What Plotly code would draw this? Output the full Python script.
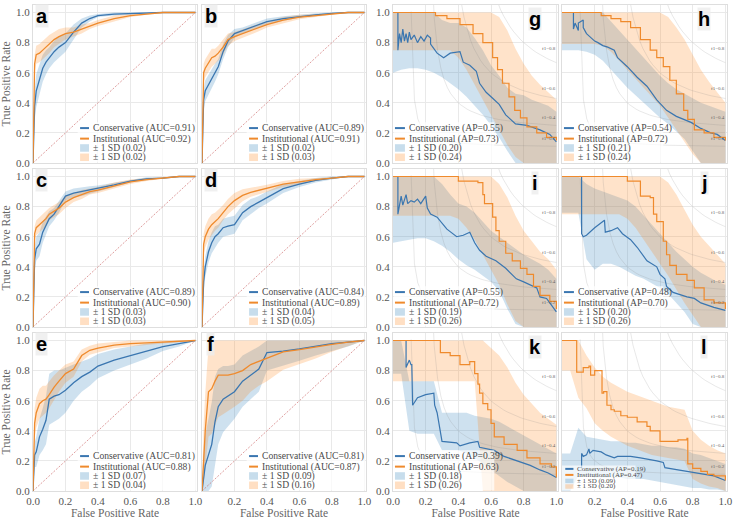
import numpy as np
import plotly.graph_objects as go

W, H = 740, 525
BLUE = "#3a76b0"
ORANGE = "#ef8a2c"
BLUE_FILL = "rgba(31,119,180,0.22)"
ORANGE_FILL = "rgba(255,127,14,0.22)"
SERIF = "Liberation Serif"
SANS = "Liberation Sans"

# ---------------- ROC panels (a-f): mean curve + SD on a shared FPR grid
roc_fpr = [0, .005, .01, .02, .04, .06, .08, .1, .13, .16, .2, .25, .3, .35, .4, .5, .6, .7, .8, .9, 1]

a_cons = [0, .25, .38, .48, .56, .63, .67, .70, .74, .77, .80, .87, .93, .96, .98, .99, .995, 1, 1, 1, 1]
a_cons_sd = [0, .08, .1, .11, .1, .09, .08, .07, .07, .07, .06, .05, .03, .02, .01, .01, .005, 0, 0, 0, 0]
a_inst = [0, .58, .66, .72, .73, .75, .77, .79, .82, .84, .86, .87, .89, .91, .93, .96, .98, .99, 1, 1, 1]
a_inst_sd = [0, .06, .06, .06, .06, .06, .06, .06, .05, .05, .04, .03, .03, .02, .02, .02, .01, .005, 0, 0, 0]

b_cons = [0, .30, .42, .48, .52, .56, .60, .64, .74, .81, .86, .88, .90, .92, .94, .96, .975, .985, .995, 1, 1]
b_cons_sd = [0, .06, .07, .07, .07, .06, .06, .05, .05, .04, .03, .02, .02, .02, .02, .015, .01, .01, .005, 0, 0]
b_inst = [0, .45, .60, .63, .67, .70, .71, .73, .77, .82, .84, .86, .88, .90, .92, .95, .97, .98, .99, 1, 1]
b_inst_sd = [0, .06, .06, .06, .06, .06, .05, .05, .05, .04, .03, .03, .03, .025, .02, .02, .015, .01, .005, 0, 0]

c_cons = [0, .30, .45, .52, .55, .63, .68, .72, .75, .80, .87, .89, .90, .91, .92, .945, .97, .985, .99, 1, 1]
c_cons_sd = [0, .07, .08, .08, .08, .07, .06, .05, .04, .04, .03, .03, .03, .025, .02, .015, .01, .01, .005, 0, 0]
c_inst = [0, .57, .62, .66, .68, .70, .72, .75, .77, .79, .83, .86, .88, .90, .91, .94, .965, .98, .99, 1, 1]
c_inst_sd = [0, .05, .05, .05, .05, .05, .05, .04, .04, .04, .04, .03, .03, .02, .02, .02, .015, .01, .005, 0, 0]

d_cons = [0, .20, .30, .40, .50, .56, .60, .62, .66, .67, .68, .76, .80, .83, .86, .92, .95, .975, .99, 1, 1]
d_cons_sd = [0, .05, .06, .07, .07, .07, .07, .06, .06, .06, .06, .05, .05, .04, .04, .03, .02, .015, .01, 0, 0]
d_inst = [0, .40, .55, .60, .65, .68, .70, .72, .76, .80, .84, .875, .895, .91, .92, .95, .965, .98, .99, 1, 1]
d_inst_sd = [0, .06, .07, .07, .07, .07, .06, .06, .05, .05, .05, .04, .03, .03, .025, .02, .02, .01, .005, 0, 0]

e_cons = [0, .20, .24, .26, .36, .41, .47, .61, .63, .64, .67, .72, .76, .79, .83, .87, .90, .93, .96, .98, 1]
e_cons_sd = [0, .06, .08, .10, .12, .14, .16, .17, .17, .16, .15, .12, .10, .09, .08, .07, .06, .05, .03, .02, 0]
e_inst = [0, .36, .45, .52, .58, .60, .61, .64, .69, .73, .78, .81, .90, .935, .95, .97, .98, .985, .99, .995, 1]
e_inst_sd = [0, .08, .10, .10, .10, .10, .09, .09, .08, .07, .06, .05, .04, .03, .03, .02, .02, .015, .01, .005, 0]

f_cons = [0, .05, .10, .17, .24, .31, .46, .56, .61, .63, .66, .73, .77, .81, .92, .93, .945, .96, .98, .99, 1]
f_cons_sd = [0, .10, .15, .20, .25, .28, .30, .25, .22, .20, .18, .17, .16, .15, .12, .10, .08, .06, .05, .03, 0]
f_inst = [0, .10, .25, .40, .66, .68, .73, .77, .77, .77, .78, .80, .84, .86, .88, .925, .94, .96, .975, .99, 1]
f_inst_sd = [0, .15, .20, .25, .30, .30, .30, .28, .26, .24, .22, .20, .18, .16, .15, .12, .10, .08, .05, .03, 0]

roc_auc_cons = [0.91, 0.89, 0.89, 0.84, 0.81, 0.81]
roc_auc_inst = [0.92, 0.91, 0.90, 0.89, 0.88, 0.87]
roc_sd_cons = [0.02, 0.02, 0.03, 0.04, 0.07, 0.09]
roc_sd_inst = [0.02, 0.03, 0.03, 0.05, 0.04, 0.16]

# ---------------- PR panels (g-l): curves + SD band edges on a coarse grid
pr_grid = [0, .05, .1, .15, .2, .25, .3, .35, .4, .45, .5, .55, .6, .65, .7, .75, .8, .85, .9, .95, 1]

g_cons_x = [.03, .03, .04, .05, .06, .07, .08, .09, .10, .11, .13, .15, .17, .19, .21, .23, .23, .25, .27, .31,
            .35, .41, .43, .47, .51, .53, .57, .61, .65, .69, .75, .82, .90, .96, 1.0]
g_cons_y = [1.0, .75, .86, .80, .89, .81, .86, .80, .87, .82, .85, .80, .84, .81, .85, .83, .79, .76, .73, .70,
            .73, .74, .67, .65, .61, .53, .47, .43, .39, .32, .26, .25, .22, .19, .14]
g_inst_x = [0, .26, .33, .41, .49, .55, .61, .64, .67, .71, .745, .78, .82, .88, .94, 1.0]
g_inst_y = [1.0, .98, .96, .92, .86, .80, .70, .62, .53, .44, .35, .30, .24, .20, .17, .15]
g_cons_lo = [.60, .62, .63, .63, .62, .60, .57, .53, .49, .44, .38, .32, .25, .17, .08, 0, 0, 0, 0, 0, 0]
g_cons_hi = [1, 1, 1, 1, 1, 1, .95, .93, .93, .90, .83, .75, .65, .58, .50, .46, .45, .42, .40, .38, .34]
g_inst_lo = [.75, .75, .75, .75, .75, .75, .75, .75, .70, .62, .52, .42, .32, .22, .12, .04, 0, 0, 0, 0, 0]
g_inst_hi = [1, 1, 1, 1, 1, 1, 1, 1, 1, 1, 1, 1, 1, .97, .88, .76, .66, .58, .52, .47, .42]

h_cons_x = [.07, .07, .08, .10, .10, .13, .13, .15, .17, .20, .22, .25, .28, .32, .34, .40, .46, .52, .58, .64,
            .70, .79, .85, .91, .95, 1.0]
h_cons_y = [1.0, .89, .93, .88, .93, .95, .90, .86, .84, .81, .80, .78, .77, .75, .70, .64, .57, .51, .42, .35,
            .31, .27, .23, .20, .19, .15]
h_inst_x = [0, .24, .30, .36, .42, .48, .54, .58, .62, .66, .70, .745, .77, .81, .87, .93, 1.0]
h_inst_y = [1.0, .98, .96, .94, .90, .82, .75, .70, .64, .55, .46, .35, .29, .22, .20, .17, .15]
h_cons_lo = [.75, .75, .75, .74, .72, .68, .62, .56, .50, .45, .40, .35, .30, .26, .21, .16, .08, 0, 0, 0, 0]
h_cons_hi = [1, 1, 1, 1, 1, 1, .94, .88, .82, .76, .70, .64, .58, .53, .49, .46, .43, .40, .38, .36, .34]
h_inst_lo = [.79, .79, .79, .79, .79, .78, .74, .68, .62, .56, .50, .44, .38, .30, .22, .14, .06, 0, 0, 0, 0]
h_inst_hi = [1, 1, 1, 1, 1, 1, 1, 1, 1, 1, 1, 1, 1, .97, .90, .82, .72, .62, .54, .47, .40]

i_cons_x = [.03, .03, .05, .06, .08, .09, .11, .13, .15, .17, .20, .21, .23, .27, .33, .39, .43, .47, .50, .53,
            .57, .63, .69, .755, .80, .84, .88, .90, .94, .96, 1.0]
i_cons_y = [1.0, .75, .87, .81, .88, .82, .84, .83, .85, .82, .87, .79, .75, .73, .65, .60, .61, .63, .56, .51,
            .47, .44, .39, .32, .30, .28, .26, .20, .19, .16, .10]
i_inst_x = [0, .40, .52, .55, .56, .61, .63, .65, .69, .73, .78, .82, .86, .90, .96, 1.0]
i_inst_y = [1.0, .97, .96, .88, .82, .73, .64, .57, .49, .44, .39, .35, .27, .21, .17, .12]
i_cons_lo = [.56, .57, .58, .59, .59, .57, .54, .50, .45, .41, .38, .34, .30, .24, .12, .02, 0, 0, 0, 0, 0]
i_cons_hi = [1, 1, 1, 1, 1, 1, .95, .88, .82, .80, .76, .70, .64, .60, .56, .52, .48, .45, .42, .38, .32]
i_inst_lo = [.74, .74, .74, .74, .74, .74, .74, .74, .72, .66, .58, .48, .38, .28, .15, .04, 0, 0, 0, 0, 0]
i_inst_hi = [1, 1, 1, 1, 1, 1, 1, 1, 1, 1, 1, 1, 1, .95, .86, .74, .64, .57, .50, .45, .38]

j_cons_x = [.12, .12, .13, .15, .20, .26, .265, .30, .34, .37, .42, .46, .52, .58, .60, .63, .64, .68, .765, .81,
            .85, .93, 1.0]
j_cons_y = [1.0, .62, .60, .61, .66, .71, .63, .64, .66, .62, .58, .53, .44, .40, .35, .32, .27, .23, .20, .19,
            .16, .13, .11]
j_inst_x = [0, .40, .48, .54, .56, .58, .62, .64, .66, .70, .765, .81, .87, .93, 1.0]
j_inst_y = [1.0, .97, .87, .86, .75, .70, .57, .48, .41, .35, .31, .26, .18, .16, .12]
j_cons_lo = [.76, .76, .76, .45, .38, .42, .42, .40, .37, .34, .32, .29, .26, .22, .16, .10, .02, 0, 0, 0, 0]
j_cons_hi = [1, 1, 1, .95, .92, .90, .88, .86, .84, .80, .74, .68, .62, .56, .50, .45, .40, .36, .33, .30, .28]
j_inst_lo = [.75, .75, .75, .75, .75, .75, .75, .75, .72, .66, .58, .50, .42, .34, .25, .16, .08, 0, 0, 0, 0]
j_inst_hi = [1, 1, 1, 1, 1, 1, 1, 1, 1, 1, 1, 1, 1, .96, .88, .78, .68, .60, .54, .48, .42]

k_cons_x = [.08, .08, .10, .11, .115, .12, .15, .20, .25, .255, .27, .29, .30, .39, .41, .47, .52, .53, .62, .68,
            .76, .84, .90, .95, 1.0]
k_cons_y = [1.0, .82, .87, .84, .84, .57, .62, .64, .65, .57, .52, .40, .33, .32, .30, .32, .33, .29, .27, .23,
            .20, .17, .14, .12, .09]
k_inst_x = [0, .29, .35, .41, .47, .50, .52, .53, .55, .58, .60, .62, .68, .76, .82, .90, .97, 1.0]
k_inst_y = [1.0, .92, .90, .84, .86, .78, .71, .65, .58, .54, .45, .36, .31, .27, .22, .18, .16, .09]
k_cons_lo = [.78, .78, .40, .38, .38, .38, .27, .27, .27, .25, .22, .18, .14, .10, .06, .03, 0, 0, 0, 0, 0]
k_cons_hi = [1, 1, .73, .73, .73, .73, .52, .52, .52, .52, .50, .49, .48, .46, .43, .40, .37, .34, .31, .28, .25]
k_inst_lo = [.73, .73, .73, .73, .73, .73, .73, .73, .73, .73, .73, 0, 0, 0, 0, 0, 0, 0, 0, 0, 0]
k_inst_hi = [1, 1, 1, 1, 1, 1, 1, 1, 1, 1, 1, 1, .95, .90, .82, .72, .64, .58, .52, .48, .44]

l_cons_x = [.12, .12, .13, .15, .165, .17, .19, .24, .27, .32, .34, .42, .48, .54, .58, .62, .63, .71, .765, .80,
            .87, .93, 1.0]
l_cons_y = [.15, .25, .23, .24, .28, .25, .27, .26, .24, .22, .23, .23, .22, .21, .20, .19, .155, .14, .13, .12,
            .11, .10, .07]
l_inst_x = [0, .09, .09, .12, .13, .165, .175, .20, .245, .255, .275, .30, .32, .36, .40, .46, .52, .54, .60, .65,
            .71, .765, .77, .80, .85, .89, .93, 1.0]
l_inst_y = [1.0, 1.0, .79, .79, .82, .83, .77, .80, .65, .66, .57, .54, .53, .50, .49, .46, .43, .40, .33, .33,
            .34, .35, .18, .15, .13, .11, .10, .07]
l_cons_lo = [0, 0, .10, .10, .09, .09, .09, .09, .08, .08, .08, .07, .06, .05, .04, .03, .02, .02, .01, .01, 0]
l_cons_hi = [.25, .25, .42, .36, .35, .34, .33, .33, .32, .32, .31, .30, .30, .29, .29, .28, .25, .24, .22, .20, .18]
l_inst_lo = [.80, .80, .62, .55, .45, .40, .36, .33, .30, .28, .26, .24, .23, .22, .21, .20, .08, .05, .03, .02, 0]
l_inst_hi = [1, 1, 1, .90, .82, .76, .72, .69, .66, .64, .62, .60, .58, .56, .55, .54, .40, .34, .30, .27, .25]

pr_ap_cons = [0.55, 0.54, 0.55, 0.48, 0.39, 0.19]
pr_ap_inst = [0.73, 0.72, 0.72, 0.70, 0.63, 0.47]
pr_sd_cons = [0.20, 0.21, 0.19, 0.20, 0.18, 0.09]
pr_sd_inst = [0.24, 0.24, 0.26, 0.26, 0.26, 0.20]

f_scores = [0.2, 0.4, 0.6, 0.8]

# pixel boxes of the panel grid
col_px = [(33, 197), (202, 366), (393, 558), (562, 727)]
row_px = [(5, 163), (169, 327), (333, 491)]

roc_panels = [("a", 0, 0, a_cons, a_cons_sd, a_inst, a_inst_sd),
              ("b", 0, 1, b_cons, b_cons_sd, b_inst, b_inst_sd),
              ("c", 1, 0, c_cons, c_cons_sd, c_inst, c_inst_sd),
              ("d", 1, 1, d_cons, d_cons_sd, d_inst, d_inst_sd),
              ("e", 2, 0, e_cons, e_cons_sd, e_inst, e_inst_sd),
              ("f", 2, 1, f_cons, f_cons_sd, f_inst, f_inst_sd)]
pr_panels = [("g", 0, 2, g_cons_x, g_cons_y, g_cons_lo, g_cons_hi, g_inst_x, g_inst_y, g_inst_lo, g_inst_hi),
             ("h", 0, 3, h_cons_x, h_cons_y, h_cons_lo, h_cons_hi, h_inst_x, h_inst_y, h_inst_lo, h_inst_hi),
             ("i", 1, 2, i_cons_x, i_cons_y, i_cons_lo, i_cons_hi, i_inst_x, i_inst_y, i_inst_lo, i_inst_hi),
             ("j", 1, 3, j_cons_x, j_cons_y, j_cons_lo, j_cons_hi, j_inst_x, j_inst_y, j_inst_lo, j_inst_hi),
             ("k", 2, 2, k_cons_x, k_cons_y, k_cons_lo, k_cons_hi, k_inst_x, k_inst_y, k_inst_lo, k_inst_hi),
             ("l", 2, 3, l_cons_x, l_cons_y, l_cons_lo, l_cons_hi, l_inst_x, l_inst_y, l_inst_lo, l_inst_hi)]

fig = go.Figure()
shapes = []
annos = []


def ax_names(n):
    return ("x" if n == 1 else f"x{n}"), ("y" if n == 1 else f"y{n}")


def add_band(n, x, lo, hi, color, shape):
    xa, ya = ax_names(n)
    fig.add_trace(go.Scatter(x=x, y=lo, mode="lines", line=dict(width=0, shape=shape),
                             xaxis=xa, yaxis=ya, hoverinfo="skip", showlegend=False))
    fig.add_trace(go.Scatter(x=x, y=hi, mode="lines", line=dict(width=0, shape=shape),
                             fill="tonexty", fillcolor=color, xaxis=xa, yaxis=ya,
                             hoverinfo="skip", showlegend=False))


def add_line(n, x, y, color, shape="linear", width=1.3, dash=None):
    xa, ya = ax_names(n)
    fig.add_trace(go.Scatter(x=x, y=y, mode="lines", xaxis=xa, yaxis=ya,
                             line=dict(color=color, width=width, shape=shape, dash=dash),
                             hoverinfo="skip", showlegend=False))


def add_legend(n, labels, x_sw, x_txt, rows, size, box, half_h):
    xa, ya = ax_names(n)
    shapes.append(dict(type="rect", xref=xa, yref=ya, x0=box[0], x1=box[1], y0=box[2], y1=box[3],
                       fillcolor="rgba(255,255,255,0.7)", line=dict(width=0), layer="above"))
    colors = [BLUE, ORANGE, "rgba(31,119,180,0.25)", "rgba(255,127,14,0.25)"]
    for i, (lab, col, yy) in enumerate(zip(labels, colors, rows)):
        if i < 2:
            shapes.append(dict(type="line", xref=xa, yref=ya, x0=x_sw[0], x1=x_sw[1], y0=yy, y1=yy,
                               line=dict(color=col, width=2), layer="above"))
        else:
            shapes.append(dict(type="rect", xref=xa, yref=ya, x0=x_sw[0], x1=x_sw[1],
                               y0=yy - half_h, y1=yy + half_h, fillcolor=col,
                               line=dict(width=0), layer="above"))
        annos.append(dict(x=x_txt, y=yy, xref=xa, yref=ya, text=lab, showarrow=False,
                          xanchor="left", yanchor="middle",
                          font=dict(family=SERIF, size=size, color="#4a4a4a")))


def add_letter(n, letter, x, y):
    xa, ya = ax_names(n)
    annos.append(dict(x=x, y=y, xref=xa, yref=ya, text=f"<b>{letter}</b>", showarrow=False,
                      xanchor="center", yanchor="middle", bgcolor="rgba(236,236,236,0.8)",
                      borderpad=0, font=dict(family=SANS, size=20, color="black")))


def setup_axes(n, r, c):
    xa, ya = ax_names(n)
    x0, x1 = col_px[c]
    y0, y1 = row_px[r]
    common = dict(showgrid=True, gridcolor="#e9e9e9", gridwidth=1, zeroline=False, automargin=False,
                  showline=True, linecolor="#dedede", linewidth=1, mirror=True, ticks="",
                  tickfont=dict(family=SERIF, size=11, color="#555"), tickformat=".1f",
                  dtick=0.2, tick0=0)
    xax = dict(domain=[x0 / W, x1 / W], range=[0, 1.01], anchor=ya,
               showticklabels=(r == 2), **common)
    if c in (1, 3):
        xax["tickvals"] = [0.2, 0.4, 0.6, 0.8, 1.0]
    if r == 2:
        xax["title"] = dict(text="False Positive Rate", standoff=2,
                            font=dict(family=SERIF, size=11.5, color="#666"))
    yax = dict(domain=[1 - y1 / H, 1 - y0 / H], range=[0, 1.05], anchor=xa,
               showticklabels=(c in (0, 2)), **common)
    if c == 0:
        yax["title"] = dict(text="True Positive Rate", standoff=4,
                            font=dict(family=SERIF, size=11.5, color="#666"))
    fig.update_layout(**{("xaxis" if n == 1 else f"xaxis{n}"): xax,
                         ("yaxis" if n == 1 else f"yaxis{n}"): yax})


n = 0
for k, (letter, r, c, cons, cons_sd, inst, inst_sd) in enumerate(roc_panels):
    n += 1
    setup_axes(n, r, c)
    cons = np.array(cons)
    inst = np.array(inst)
    add_band(n, roc_fpr, np.clip(cons - np.array(cons_sd), 0, 1), np.clip(cons + np.array(cons_sd), 0, 1),
             BLUE_FILL, "linear")
    add_band(n, roc_fpr, np.clip(inst - np.array(inst_sd), 0, 1), np.clip(inst + np.array(inst_sd), 0, 1),
             ORANGE_FILL, "linear")
    add_line(n, [0, 1], [0, 1], "rgba(200,90,90,0.75)", width=0.8, dash="2px,1.5px")
    add_line(n, roc_fpr, cons, BLUE)
    add_line(n, roc_fpr, inst, ORANGE)
    labels = [f"Conservative (AUC={roc_auc_cons[k]:.2f})", f"Institutional (AUC={roc_auc_inst[k]:.2f})",
              f"± 1 SD ({roc_sd_cons[k]:.2f})", f"± 1 SD ({roc_sd_inst[k]:.2f})"]
    add_legend(n, labels, (0.29, 0.345), 0.36, [0.232, 0.162, 0.1, 0.038], 9.6,
               (0.275, 1.005, 0.004, 0.27), 0.025)
    add_letter(n, letter, 0.055, 0.975)

fx = np.linspace(0.01, 1, 50)
for k, (letter, r, c, cx, cy, clo, chi, ix, iy, ilo, ihi) in enumerate(pr_panels):
    n += 1
    setup_axes(n, r, c)
    add_band(n, pr_grid, clo, chi, BLUE_FILL, "linear")
    add_band(n, pr_grid, ilo, ihi, ORANGE_FILL, "linear")
    xa, ya = ax_names(n)
    for fs in f_scores:
        fy = fs * fx / (2 * fx - fs)
        m = (fy >= 0) & (fy <= 1.5)
        add_line(n, fx[m], fy[m], "rgba(128,128,128,0.18)", width=1)
        annos.append(dict(x=0.9, y=fy[45] + 0.02, xref=xa, yref=ya, text=f"f1={fs:.1f}", showarrow=False,
                          xanchor="left", yanchor="bottom",
                          font=dict(family=SERIF, size=5, color="#666")))
    add_line(n, cx, cy, BLUE, width=1.2)
    add_line(n, ix, iy, ORANGE, shape="hv", width=1.2)
    labels = [f"Conservative (AP={pr_ap_cons[k]:.2f})", f"Institutional (AP={pr_ap_inst[k]:.2f})",
              f"± 1 SD ({pr_sd_cons[k]:.2f})", f"± 1 SD ({pr_sd_inst[k]:.2f})"]
    if letter == "l":
        add_legend(n, labels, (0.02, 0.07), 0.08, [0.147, 0.107, 0.067, 0.03], 7,
                   (0.0, 0.45, 0.004, 0.17), 0.015)
    else:
        add_legend(n, labels, (0.012, 0.073), 0.088, [0.232, 0.162, 0.1, 0.038], 9.6,
                   (0.004, 0.62, 0.004, 0.27), 0.025)
    add_letter(n, letter, 0.87, 0.955)

fig.update_layout(width=W, height=H, margin=dict(l=0, r=0, t=0, b=0),
                  plot_bgcolor="white", paper_bgcolor="white", showlegend=False,
                  shapes=shapes, annotations=annos)
# the page body has a default 8px margin; remove it so the figure sits at the window origin
fig.write_html("out.html", config={"displayModeBar": False},
               post_script="document.body.style.margin='0';")
